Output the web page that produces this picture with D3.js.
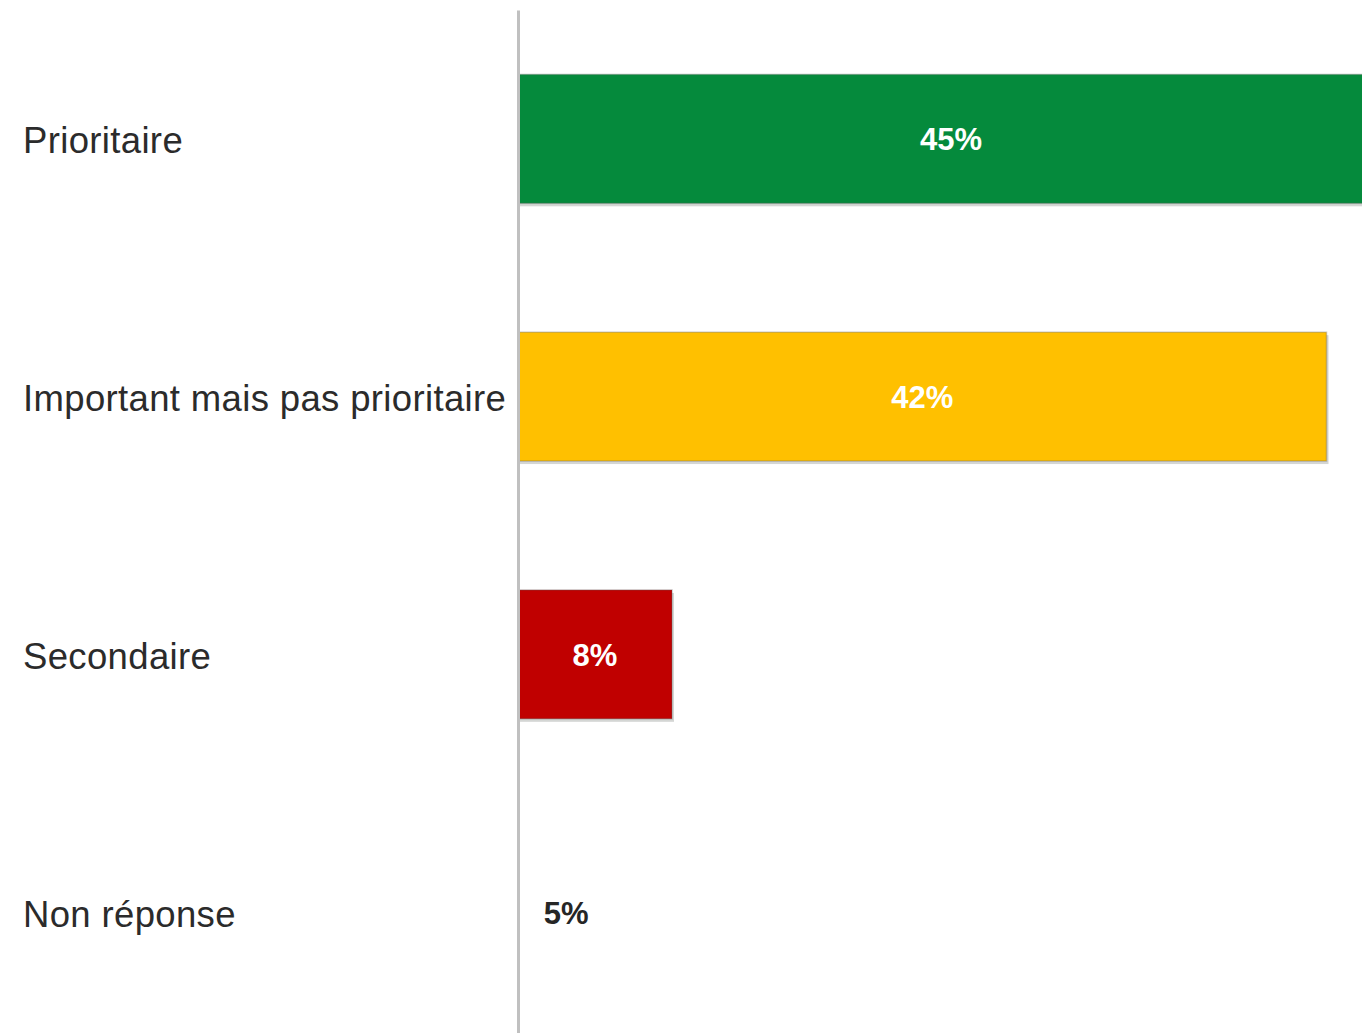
<!DOCTYPE html>
<html>
<head>
<meta charset="utf-8">
<script src="https://cdn.jsdelivr.net/npm/d3@7"></script>
<style>
  body { margin: 0; background: #fff; }
  svg { display: block; font-family: "Liberation Sans", Arial, sans-serif; }
</style>
</head>
<body>
<svg width="1362" height="1033"></svg>
<script>
const categories = ["Prioritaire", "Important mais pas prioritaire", "Secondaire", "Non réponse"];
const values = [45, 42, 8, 5];
const barColors = ["#058a3c", "#ffc000", "#c00000", "#ffffff"];
const labelColors = ["#ffffff", "#ffffff", "#ffffff", "#262626"];

const AXIS_X = 518;
const PX_PER_PCT = 19.25;

const data = categories.map((c, i) => ({
  name: c,
  value: values[i],
  color: barColors[i],
  labelColor: labelColors[i],
}));

const svg = d3.select("svg");

const x = d3
  .scaleLinear()
  .domain([0, 50])
  .range([AXIS_X, AXIS_X + PX_PER_PCT * 50]);

const y = d3
  .scaleBand()
  .domain(categories)
  .range([10, 1041])
  .paddingInner(0.5)
  .paddingOuter(0.25);

// drop shadow under the coloured bars
svg
  .append("g")
  .selectAll("rect")
  .data(data.filter((d) => d.color !== "#ffffff"))
  .enter()
  .append("rect")
  .attr("x", x(0) + 2)
  .attr("y", (d) => y(d.name) + 3)
  .attr("width", (d) => x(d.value) - x(0))
  .attr("height", y.bandwidth())
  .attr("fill", "#d4d6d4");

svg
  .append("g")
  .selectAll("rect")
  .data(data)
  .enter()
  .append("rect")
  .attr("x", x(0))
  .attr("y", (d) => y(d.name))
  .attr("width", (d) => x(d.value) - x(0))
  .attr("height", y.bandwidth())
  .attr("fill", (d) => d.color)
  .attr("stroke", (d) => (d.color === "#ffffff" ? "none" : "rgba(90,90,90,0.3)"))
  .attr("stroke-width", 1.5);

// value labels centred in each bar
svg
  .append("g")
  .selectAll("text")
  .data(data)
  .enter()
  .append("text")
  .attr("x", (d) => (x(0) + x(d.value)) / 2)
  .attr("y", (d) => y(d.name) + y.bandwidth() / 2 + 1)
  .attr("text-anchor", "middle")
  .attr("dominant-baseline", "central")
  .attr("font-size", 31)
  .attr("font-weight", "bold")
  .attr("fill", (d) => d.labelColor)
  .text((d) => d.value + "%");

// category labels
svg
  .append("g")
  .selectAll("text")
  .data(data)
  .enter()
  .append("text")
  .attr("x", 23)
  .attr("y", (d) => y(d.name) + y.bandwidth() / 2 + 2)
  .attr("dominant-baseline", "central")
  .attr("font-size", 36.5)
  .attr("letter-spacing", 0.35)
  .attr("fill", "#2b2b2b")
  .text((d) => d.name);

// vertical category axis
const axis = svg
  .append("g")
  .attr("transform", `translate(${AXIS_X},0)`)
  .call(d3.axisLeft(y).tickSize(0).tickFormat(""));
axis.select(".domain").attr("stroke", "#c0c0c0").attr("stroke-width", 3);
</script>
</body>
</html>
